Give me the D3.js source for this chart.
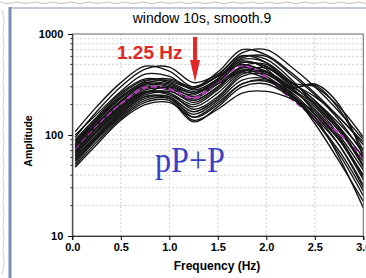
<!DOCTYPE html>
<html>
<head>
  <meta charset="utf-8">
  <title>window 10s, smooth.9</title>
  <script src="https://cdnjs.cloudflare.com/ajax/libs/d3/7.8.5/d3.min.js"></script>
  <style>
    body {
      margin: 0;
      background: #fff;
    }
    svg text {
      font-family: Arial, "Liberation Sans", sans-serif;
    }
  </style>
</head>
<body>
  <svg id="chart" width="366" height="278"></svg>

  <script>
    const freqs = [0.03, 0.25, 0.5, 0.75, 1.0, 1.25, 1.5, 1.75, 2.0, 2.25, 2.5, 2.75, 3.0];

    // Individual station spectra (amplitude at each frequency)
    const curves = [
      [108, 190, 330, 480, 430, 300, 420, 700, 620, 420, 260, 150, 85],
      [95, 170, 300, 450, 470, 330, 400, 650, 700, 480, 300, 170, 90],
      [90, 150, 260, 360, 340, 290, 380, 560, 520, 340, 220, 130, 70],
      [85, 140, 240, 330, 320, 260, 360, 600, 560, 360, 200, 110, 55],
      [80, 135, 230, 320, 310, 240, 330, 520, 480, 330, 240, 150, 80],
      [78, 130, 220, 310, 300, 220, 300, 480, 500, 330, 300, 190, 95],
      [76, 125, 210, 300, 290, 230, 320, 470, 430, 300, 310, 180, 70],
      [72, 120, 200, 290, 280, 210, 290, 460, 400, 280, 190, 100, 45],
      [70, 118, 195, 280, 290, 250, 350, 540, 450, 260, 160, 90, 40],
      [68, 115, 190, 270, 260, 200, 280, 430, 420, 290, 180, 95, 38],
      [66, 110, 185, 265, 250, 190, 260, 420, 460, 320, 200, 110, 50],
      [64, 108, 180, 260, 270, 220, 300, 440, 380, 250, 150, 80, 32],
      [62, 105, 175, 260, 300, 260, 320, 420, 360, 240, 140, 70, 28],
      [60, 100, 170, 250, 260, 180, 240, 400, 420, 300, 170, 90, 36],
      [58, 98, 165, 240, 240, 170, 230, 380, 400, 290, 320, 200, 60],
      [56, 95, 160, 240, 230, 160, 220, 350, 360, 270, 160, 80, 30],
      [55, 92, 155, 230, 240, 150, 200, 320, 340, 250, 140, 65, 25],
      [52, 90, 150, 220, 230, 140, 180, 260, 270, 230, 170, 90, 40],
      [50, 85, 145, 210, 220, 135, 190, 300, 320, 240, 150, 60, 19],
      [48, 80, 140, 200, 210, 150, 210, 320, 350, 260, 130, 55, 22],
      [100, 160, 270, 400, 380, 280, 360, 580, 600, 400, 250, 140, 65],
      [88, 145, 250, 350, 330, 270, 340, 520, 470, 310, 210, 120, 60],
      [75, 128, 215, 320, 350, 290, 390, 610, 520, 340, 220, 120, 50],
      [82, 138, 235, 340, 360, 300, 380, 500, 420, 290, 200, 115, 48]
    ];

    // Average spectrum (magenta dashed)
    const meanCurve = [74, 125, 205, 295, 285, 232, 335, 490, 370, 232, 151, 104, 59];

    // Axis ticks
    const xTicks = [0, 0.5, 1.0, 1.5, 2.0, 2.5, 3.0];
    const yTicks = [10, 100, 1000];

    // Plot area
    const pLeft = 72.3, pRight = 363.3, pTop = 34, pBottom = 236;

    const svg = d3.select("#chart");

    const x = d3.scaleLinear().domain([0, 3]).range([pLeft, pRight]);
    const y = d3.scaleLog().domain([10, 1000]).range([pBottom, pTop]);

    // Torn paper edges round the panel
    const wave = d3.line().curve(d3.curveBasis);
    const topEdge = d3.range(0, 367, 6).map((px, i) => [px, 3 + (i % 3 === 0 ? -1.5 : i % 3 === 1 ? 1 : 0)]);
    svg.append("path")
      .attr("d", wave(topEdge))
      .attr("fill", "none")
      .attr("stroke", "#c0c0c0")
      .attr("stroke-width", 1);
    const leftEdge = d3.range(10, 279, 12).map((py, i) => [3 + (i % 2 ? 2 : -1), py]);
    svg.append("path")
      .attr("d", wave(leftEdge))
      .attr("fill", "none")
      .attr("stroke", "#d0d0d0")
      .attr("stroke-width", 1);

    // Panel border
    svg.append("line")
      .attr("x1", 10).attr("x2", 366).attr("y1", 8).attr("y2", 8)
      .attr("stroke", "#a9b8d0").attr("stroke-width", 1.5);
    svg.append("rect")
      .attr("x", 8.5).attr("y", 7).attr("width", 3).attr("height", 271)
      .attr("fill", "#7a8db4");

    // Grid
    const hGrid = [];
    [10, 100].forEach(d => { for (let k = 2; k <= 9; k++) hGrid.push(d * k); });
    hGrid.push(100);
    svg.append("g")
      .selectAll("line")
      .data(hGrid)
      .join("line")
      .attr("x1", pLeft).attr("x2", pRight)
      .attr("y1", d => y(d)).attr("y2", d => y(d))
      .attr("stroke", "#cfcfcf")
      .attr("stroke-dasharray", "2,2");
    svg.append("g")
      .selectAll("line")
      .data(xTicks.slice(1, -1))
      .join("line")
      .attr("x1", d => x(d)).attr("x2", d => x(d))
      .attr("y1", pTop).attr("y2", pBottom)
      .attr("stroke", "#cfcfcf")
      .attr("stroke-dasharray", "2,2");

    // Spectra
    svg.append("clipPath").attr("id", "clip")
      .append("rect")
      .attr("x", pLeft).attr("y", pTop)
      .attr("width", pRight - pLeft).attr("height", pBottom - pTop);

    const line = d3.line()
      .x((d, i) => x(freqs[i]))
      .y(d => y(d))
      .curve(d3.curveCatmullRom.alpha(0.5));

    const plot = svg.append("g").attr("clip-path", "url(#clip)");

    plot.selectAll("path.spec1")
      .data(curves.slice(0, 12))
      .join("path")
      .attr("class", "spec1")
      .attr("d", line)
      .attr("fill", "none")
      .attr("stroke", "#141414")
      .attr("stroke-width", 1.35);

    plot.append("path")
      .attr("d", line(meanCurve))
      .attr("fill", "none")
      .attr("stroke", "#b23ab8")
      .attr("stroke-width", 2.4)
      .attr("stroke-dasharray", "6,3");

    plot.selectAll("path.spec2")
      .data(curves.slice(12))
      .join("path")
      .attr("class", "spec2")
      .attr("d", line)
      .attr("fill", "none")
      .attr("stroke", "#141414")
      .attr("stroke-width", 1.35);

    // Frame
    svg.append("rect")
      .attr("x", pLeft).attr("y", pTop)
      .attr("width", pRight - pLeft).attr("height", pBottom - pTop)
      .attr("fill", "none")
      .attr("stroke", "#666")
      .attr("stroke-width", 1);

    // Axes
    const yAxis = d3.axisLeft(y)
      .tickValues(yTicks)
      .tickFormat(d3.format("d"))
      .tickSize(4)
      .tickPadding(5);
    const yg = svg.append("g")
      .attr("transform", `translate(${pLeft},0)`)
      .call(yAxis);
    yg.select(".domain").attr("stroke", "#333");
    yg.selectAll("text")
      .attr("font-size", "11px")
      .attr("font-weight", "bold")
      .attr("fill", "#000");

    // minor log ticks
    svg.append("g")
      .selectAll("line")
      .data(hGrid.filter(d => d !== 100))
      .join("line")
      .attr("x1", pLeft - 2).attr("x2", pLeft)
      .attr("y1", d => y(d)).attr("y2", d => y(d))
      .attr("stroke", "#333");

    const xAxis = d3.axisBottom(x)
      .tickValues(xTicks)
      .tickFormat(d3.format(".1f"))
      .tickSize(4)
      .tickPadding(3);
    const xg = svg.append("g")
      .attr("transform", `translate(0,${pBottom})`)
      .call(xAxis);
    xg.select(".domain").attr("stroke", "#333");
    xg.selectAll("text")
      .attr("font-size", "11px")
      .attr("font-weight", "bold")
      .attr("fill", "#000");

    // Labels
    svg.append("text")
      .attr("x", 202).attr("y", 23)
      .attr("text-anchor", "middle")
      .attr("font-size", "14px")
      .text("window 10s, smooth.9");

    svg.append("text")
      .attr("x", 217).attr("y", 270)
      .attr("text-anchor", "middle")
      .attr("font-size", "12px")
      .attr("font-weight", "bold")
      .text("Frequency (Hz)");

    svg.append("text")
      .attr("transform", "translate(32,141) rotate(-90)")
      .attr("text-anchor", "middle")
      .attr("font-size", "10.5px")
      .attr("font-weight", "bold")
      .text("Amplitude");

    // 1.25 Hz annotation
    svg.append("text")
      .attr("x", 117).attr("y", 59)
      .attr("font-size", "19px")
      .attr("font-weight", "bold")
      .attr("fill", "#e02828")
      .text("1.25 Hz");

    const ax = x(1.25) + 1.5;
    svg.append("rect")
      .attr("x", ax - 2).attr("y", 37)
      .attr("width", 4).attr("height", 25)
      .attr("fill", "#e02828");
    svg.append("path")
      .attr("d", `M${ax - 5},60 L${ax + 5},60 L${ax},82 Z`)
      .attr("fill", "#e02828");

    svg.append("text")
      .attr("x", 155).attr("y", 172)
      .style("font-family", "'Liberation Serif', 'DejaVu Serif', serif")
      .attr("font-size", "36px")
      .attr("textLength", 70)
      .attr("lengthAdjust", "spacingAndGlyphs")
      .attr("fill", "#3b3fc4")
      .text("pP+P");
  </script>
</body>
</html>
